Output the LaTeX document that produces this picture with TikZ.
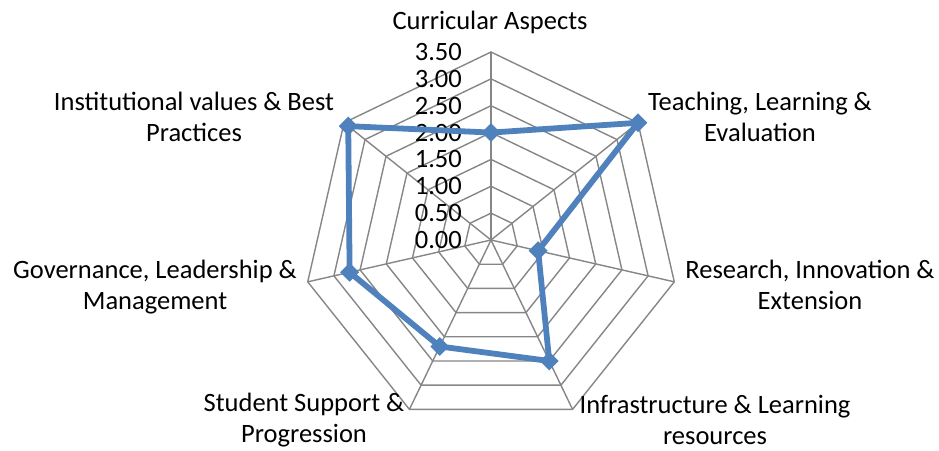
\documentclass[tikz,border=0pt]{standalone}
\usepackage{fontspec}
\setmainfont{Carlito}
\usetikzlibrary{shapes.geometric}
\definecolor{gridgray}{HTML}{868686}
\definecolor{serblue}{HTML}{4F81BD}
\begin{document}
\begin{tikzpicture}[x=1pt,y=-1pt,
  gridline/.style={draw=gridgray,line width=1.4pt},
  series/.style={draw=serblue,line width=5.8pt,line join=round},
  marker/.style={diamond,fill=serblue,draw=none,minimum size=19pt,inner sep=0pt},
  axislabel/.style={font=\fontsize{26.5}{31}\selectfont,align=center,inner sep=0pt},
  ticklabel/.style={font=\fontsize{26.5}{31}\selectfont,anchor=east,inner sep=0pt}]
\useasboundingbox (0,0) rectangle (939,450);
\begin{scope}[shift={(491,240)}]
  % rings
  \foreach \i in {1,...,7}{
    \draw[gridline] (0,{-\i*26.857})
      -- ({\i*26.857*sin(360/7)},{-\i*26.857*cos(360/7)})
      -- ({\i*26.857*sin(2*360/7)},{-\i*26.857*cos(2*360/7)})
      -- ({\i*26.857*sin(3*360/7)},{-\i*26.857*cos(3*360/7)})
      -- ({\i*26.857*sin(4*360/7)},{-\i*26.857*cos(4*360/7)})
      -- ({\i*26.857*sin(5*360/7)},{-\i*26.857*cos(5*360/7)})
      -- ({\i*26.857*sin(6*360/7)},{-\i*26.857*cos(6*360/7)})
      -- cycle;
  }
  % spokes
  \coordinate (o) at (0,0);
  \foreach \k in {0,...,6}{
    \coordinate (v\k) at ({188*sin(\k*360/7)},{-188*cos(\k*360/7)});
    \draw[gridline] (o) -- (v\k);
  }
  % tick labels
  \foreach \v/\t [count=\n from 0] in {0/0.00,0.5/0.50,1/1.00,1.5/1.50,2/2.00,2.5/2.50,3/3.00,3.5/3.50}{
    \node[ticklabel] (t\n) at (-29,{-\v*53.714}) {\t};
  }
  % data
  \foreach \v [count=\k from 0] in {2.0,3.5,0.9,2.5,2.2,2.7,3.4}{
    \coordinate (c\k) at ({\v*53.714*sin(\k*360/7)},{-\v*53.714*cos(\k*360/7)});
  }
  \draw[series] (c0) -- (c1) -- (c2) -- (c3) -- (c4) -- (c5) -- (c6) -- cycle;
  \foreach \k in {0,...,6}{
    \node[marker] (m\k) at (c\k) {};
  }
\end{scope}
% axis labels
\node[axislabel] (l0) at (490,22) {Curricular Aspects};
\node[axislabel] (l1) at (760,117) {Teaching, Learning \&\\Evaluation};
\node[axislabel] (l2) at (810,285) {Research, Innovation \&\\Extension};
\node[axislabel] (l3) at (715,420) {Infrastructure \& Learning\\resources};
\node[axislabel] (l4) at (304,420) {Student Support \&\\Progression};
\node[axislabel] (l5) at (155,287) {Governance, Leadership \&\\Management};
\node[axislabel] (l6) at (194,117) {Institutional values \& Best\\Practices};
\end{tikzpicture}
\end{document}
